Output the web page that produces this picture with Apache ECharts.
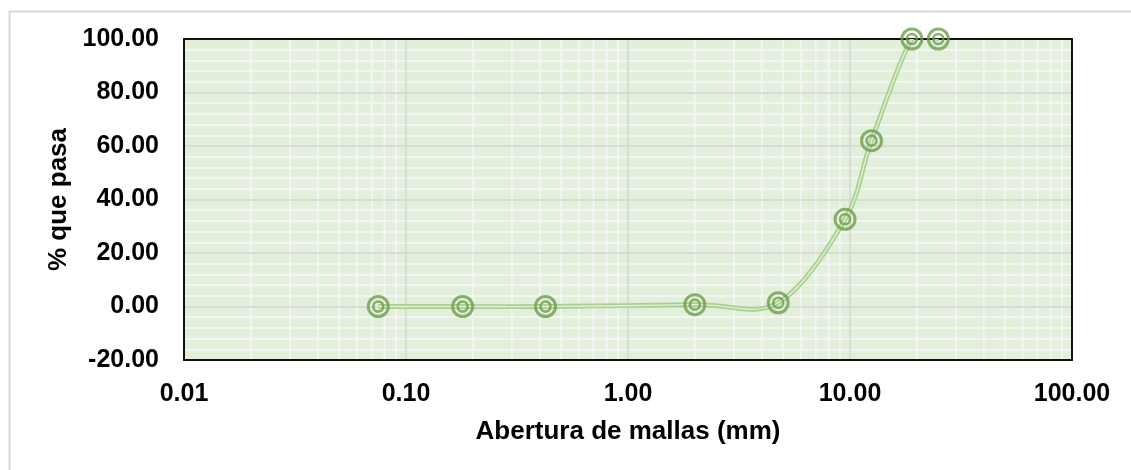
<!DOCTYPE html>
<html>
<head>
<meta charset="utf-8">
<script src="https://cdn.jsdelivr.net/npm/echarts@6/dist/echarts.min.js"></script>
<style>
html,body{margin:0;padding:0;background:#fff;}
#chart{width:1131px;height:470px;}
</style>
</head>
<body>
<div id="chart"></div>
<script>
// Data
const aberturas = [0.075, 0.18, 0.425, 2.0, 4.75, 9.5, 12.5, 19.0, 25.0];
const pasa = [0, 0, 0, 0.7, 1.4, 32.6, 62.0, 100, 100];
const xDecades = [0.01, 0.1, 1, 10];
const minorMultipliers = [2, 3, 4, 5, 6, 7, 8, 9];
const yMin = -20, yMax = 100;
const xAxisName = 'Abertura de mallas (mm)';
const yAxisName = '% que pasa';

const points = aberturas.map((x, i) => [x, pasa[i]]);
const minorX = [];
xDecades.forEach(d => minorMultipliers.forEach(m => minorX.push(+(d * m).toPrecision(6))));

const FONT = 'Liberation Sans, Arial, sans-serif';
const chart = echarts.init(document.getElementById('chart'), null, {renderer: 'canvas'});

// Smoothed (Catmull-Rom style, like a spreadsheet smoothed line) path through the data,
// positioned via the chart's own coordinate system.
function smoothPathItem(params, api, color, width) {
  if (params.dataIndex !== 0) return null;
  const pts = points.map(p => api.coord(p));
  const n = pts.length;
  let d = 'M' + pts[0][0] + ' ' + pts[0][1];
  for (let i = 0; i < n - 1; i++) {
    const p0 = pts[Math.max(i - 1, 0)], p1 = pts[i], p2 = pts[i + 1], p3 = pts[Math.min(i + 2, n - 1)];
    const c1x = p1[0] + (p2[0] - p0[0]) / 6, c1y = p1[1] + (p2[1] - p0[1]) / 6;
    const c2x = p2[0] - (p3[0] - p1[0]) / 6, c2y = p2[1] - (p3[1] - p1[1]) / 6;
    d += ' C' + c1x + ' ' + c1y + ' ' + c2x + ' ' + c2y + ' ' + p2[0] + ' ' + p2[1];
  }
  return {
    type: 'path',
    shape: {pathData: d},
    style: {fill: 'none', stroke: color, lineWidth: width}
  };
}

chart.setOption({
  animation: false,
  backgroundColor: '#fff',
  graphic: [{
    type: 'rect', left: 7, top: 9, z: -10,
    shape: {width: 1300, height: 700},
    style: {fill: 'none', stroke: '#d9d9d9', lineWidth: 2}
  }],
  grid: {
    left: 184, right: 59, top: 39, bottom: 110,
    show: true, backgroundColor: '#e2efda', borderWidth: 0
  },
  xAxis: [{
    type: 'log', logBase: 10, min: 0.01, max: 100, z: 1,
    name: xAxisName, nameLocation: 'middle', nameGap: 59,
    nameTextStyle: {fontFamily: FONT, fontWeight: 'bold', fontSize: 26, color: '#000'},
    axisLine: {show: true, onZero: false, lineStyle: {color: '#111', width: 2}},
    axisTick: {show: false},
    axisLabel: {
      margin: 22, fontFamily: FONT, fontWeight: 'bold', fontSize: 25, color: '#000',
      formatter: v => Number(v).toFixed(2)
    },
    splitLine: {show: true, lineStyle: {color: '#d4d4d4', width: 1.5}},
    minorTick: {show: false}, minorSplitLine: {show: false}
  }, {
    type: 'log', logBase: 10, min: 0.01, max: 100, position: 'top', z: 1,
    axisLine: {show: true, onZero: false, lineStyle: {color: '#111', width: 2}},
    axisTick: {show: false}, axisLabel: {show: false}, splitLine: {show: false}
  }],
  yAxis: [{
    type: 'value', min: yMin, max: yMax, interval: 20, z: 1,
    name: yAxisName, nameLocation: 'middle', nameGap: 112, nameRotate: 90,
    nameTextStyle: {fontFamily: FONT, fontWeight: 'bold', fontSize: 26, color: '#000'},
    axisLine: {show: true, onZero: false, lineStyle: {color: '#111', width: 2}},
    axisTick: {show: false},
    axisLabel: {
      margin: 25, fontFamily: FONT, fontWeight: 'bold', fontSize: 25, color: '#000',
      formatter: v => Number(v).toFixed(2)
    },
    splitLine: {show: true, lineStyle: {color: '#d4d4d4', width: 1.5}},
    minorTick: {show: false, splitNumber: 5},
    minorSplitLine: {show: true, lineStyle: {color: '#f4f4f4', width: 2}}
  }, {
    type: 'value', min: yMin, max: yMax, interval: 20, position: 'right', z: 1,
    axisLine: {show: true, onZero: false, lineStyle: {color: '#111', width: 2}},
    axisTick: {show: false}, axisLabel: {show: false}, splitLine: {show: false}
  }],
  series: [{
    // minor vertical gridlines (2..9 in each decade)
    type: 'custom', data: minorX.map(v => [v]), z: 0.5, silent: true, clip: true,
    encode: {x: 0},
    renderItem: (params, api) => {
      const v = api.value(0);
      const a = api.coord([v, yMin]), b = api.coord([v, yMax]);
      return {
        type: 'line',
        shape: {x1: a[0], y1: a[1], x2: b[0], y2: b[1]},
        style: {stroke: '#f4f4f4', lineWidth: 2}
      };
    }
  }, {
    type: 'custom', data: points, z: 3, clip: true, silent: true,
    renderItem: (params, api) => smoothPathItem(params, api, '#a9d08e', 4.8)
  }, {
    type: 'custom', data: points, z: 4, clip: true, silent: true,
    renderItem: (params, api) => smoothPathItem(params, api, '#e2efda', 1.4)
  }, {
    type: 'scatter', data: points, z: 5, symbol: 'circle', symbolSize: 20,
    itemStyle: {color: 'rgba(0,0,0,0)', borderColor: '#6e9e4b', borderWidth: 3}
  }, {
    type: 'scatter', data: points, z: 6, symbol: 'circle', symbolSize: 10,
    itemStyle: {color: 'rgba(0,0,0,0)', borderColor: '#6e9e4b', borderWidth: 2.6}
  }]
});
</script>
</body>
</html>
